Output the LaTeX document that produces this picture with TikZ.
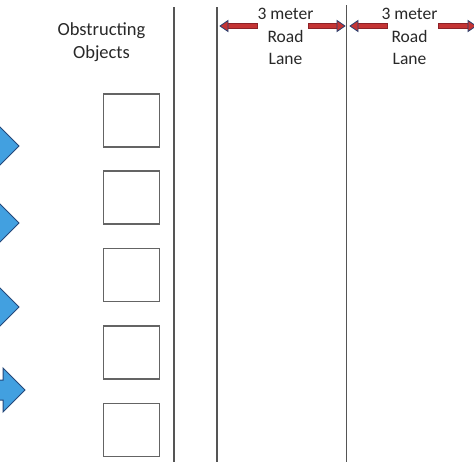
\documentclass[tikz,border=0pt]{standalone}
\usepackage{fontspec}
\setmainfont{Carlito}
\definecolor{carBlue}{RGB}{66,160,224}
\definecolor{carEdge}{RGB}{36,72,122}
\definecolor{laneRed}{RGB}{196,52,52}
\definecolor{laneEdge}{RGB}{140,34,40}
\definecolor{headEdge}{RGB}{40,64,112}
\definecolor{lineGray}{RGB}{85,85,85}
\definecolor{boxGray}{RGB}{100,100,100}
\definecolor{textGray}{RGB}{40,40,40}
% arrow pointing right, tip at (#1,#2)
\newcommand{\pCarArrow}[2]{\draw[carEdge, fill=carBlue, line width=1pt, line join=miter]
  (-30,#2-10) -- (#1-22,#2-10) -- (#1-22,#2-22) -- (#1,#2) -- (#1-22,#2+22) -- (#1-22,#2+10) -- (-30,#2+10) -- cycle;}
% lane arrow, tip at #1, tail at #2, height #3
\newcommand{\pLaneArrow}[3]{\pgfmathsetmacro\pDir{sign(#2-#1)}
  \draw[laneEdge, fill=laneRed, line width=0.6pt] (#2,#3-2.7) -- (#1+7*\pDir,#3-2.7) -- (#1+7*\pDir,#3+2.7) -- (#2,#3+2.7) -- cycle;
  \draw[headEdge, fill=laneRed, line width=0.8pt, line join=miter] (#1+8*\pDir,#3-5.5) -- (#1,#3) -- (#1+8*\pDir,#3+5.5) -- cycle;}

\begin{document}
\begin{tikzpicture}[x=1pt,y=-1pt,
  objbox/.style={draw=boxGray, line width=1.8pt, minimum width=56pt, minimum height=53pt, inner sep=0pt},
  lanetext/.style={align=center, inner sep=0pt, text=textGray, font=\fontsize{17.5}{22.5}\selectfont},
  laneline/.style={draw=lineGray, line width=1.2pt}]
\useasboundingbox (0,0) rectangle (474,474);
\clip (0,0) rectangle (474,474);
\node[lanetext, font=\fontsize{18.5}{23}\selectfont] (obst) at (101.5,42.5) {Obstructing\\Objects};
\node[lanetext] (laneA) at (285.5,36.5) {3 meter\\Road\\Lane};
\node[lanetext] (laneB) at (409.5,36.5) {3 meter\\Road\\Lane};
\node[objbox] (box1) at (131.5,120.5) {};
\node[objbox] (box2) at (131.5,197.5) {};
\node[objbox] (box3) at (131.5,275) {};
\node[objbox] (box4) at (131.5,352.5) {};
\node[objbox] (box5) at (131.5,430) {};
\draw[laneline] (174,7) -- (174,462);
\draw[laneline] (217,7) -- (217,462);
\draw[laneline] (346.5,5) -- (346.5,462);
\pCarArrow{19}{146}
\pCarArrow{19}{223}
\pCarArrow{19}{307}
\pCarArrow{25}{390}
\pLaneArrow{220}{257}{26}
\pLaneArrow{345}{308}{26}
\pLaneArrow{350}{387}{26}
\pLaneArrow{476}{438}{26}
\end{tikzpicture}
\end{document}
